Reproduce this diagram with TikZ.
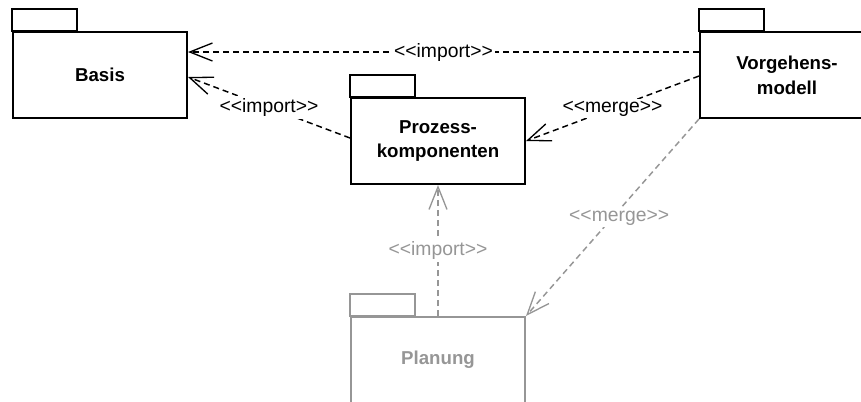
\documentclass[tikz,border=0pt]{standalone}
\usepackage{fontspec}
\setmainfont{Liberation Sans}
\usepackage{xcolor}
\usepackage{tikz}
\usetikzlibrary{arrows.meta,positioning,calc}
\definecolor{pkgray}{RGB}{150,150,150}
\newcommand{\stereo}[1]{<{}<#1>{}>}
\newcommand{\pkgtab}[2][black]{\draw[#1,line width=1.2pt] (#2.north west) rectangle ++(65,-22);}

\begin{document}
\begin{tikzpicture}[x=0.75pt,y=-0.75pt,font=\fontsize{14.5}{18.5}\selectfont,
  pkg/.style={draw,line width=1.5pt,minimum width=130.5pt,minimum height=64.5pt,
     align=center,font=\fontsize{14}{18.5}\selectfont\bfseries,inner sep=0pt},
  dep/.style={dash pattern=on 4.5pt off 3pt,line width=1.1pt,
     -{Straight Barb[length=17pt,width=13.5pt,line width=1pt]}},
  lbl/.style={fill=white,inner sep=1.5pt}]
\useasboundingbox (0,0) rectangle (861,401);
\node[pkg] (basis) at (100,75){Basis};
\node[pkg] (proz) at (438,141){Prozess-\\komponenten};
\node[pkg] (vorg) at (787,75){Vorgehens-\\modell};
\node[pkg,draw=pkgray,text=pkgray] (plan) at (438,360){Planung};
\pkgtab{basis}
\pkgtab{proz}
\pkgtab{vorg}
\pkgtab[pkgray]{plan}
% dependencies between the packages
\draw[dep] ($(vorg.west)+(0,-23)$) -- node[lbl]{\stereo{import}} ($(basis.east)+(0,-23)$);
\draw[dep] ($(proz.west)+(0,-3)$) -- node[lbl]{\stereo{import}} ($(basis.east)+(0,2)$);
\draw[dep] ($(vorg.west)+(0,1)$) -- node[lbl]{\stereo{merge}} (proz.east);
\draw[dep,pkgray] (plan.north) -- node[lbl,text=pkgray]{\stereo{import}} (proz.south);
\draw[dep,pkgray] (vorg.south west) -- node[lbl,text=pkgray,xshift=5]{\stereo{merge}} (plan.north east);
\end{tikzpicture}
\end{document}
